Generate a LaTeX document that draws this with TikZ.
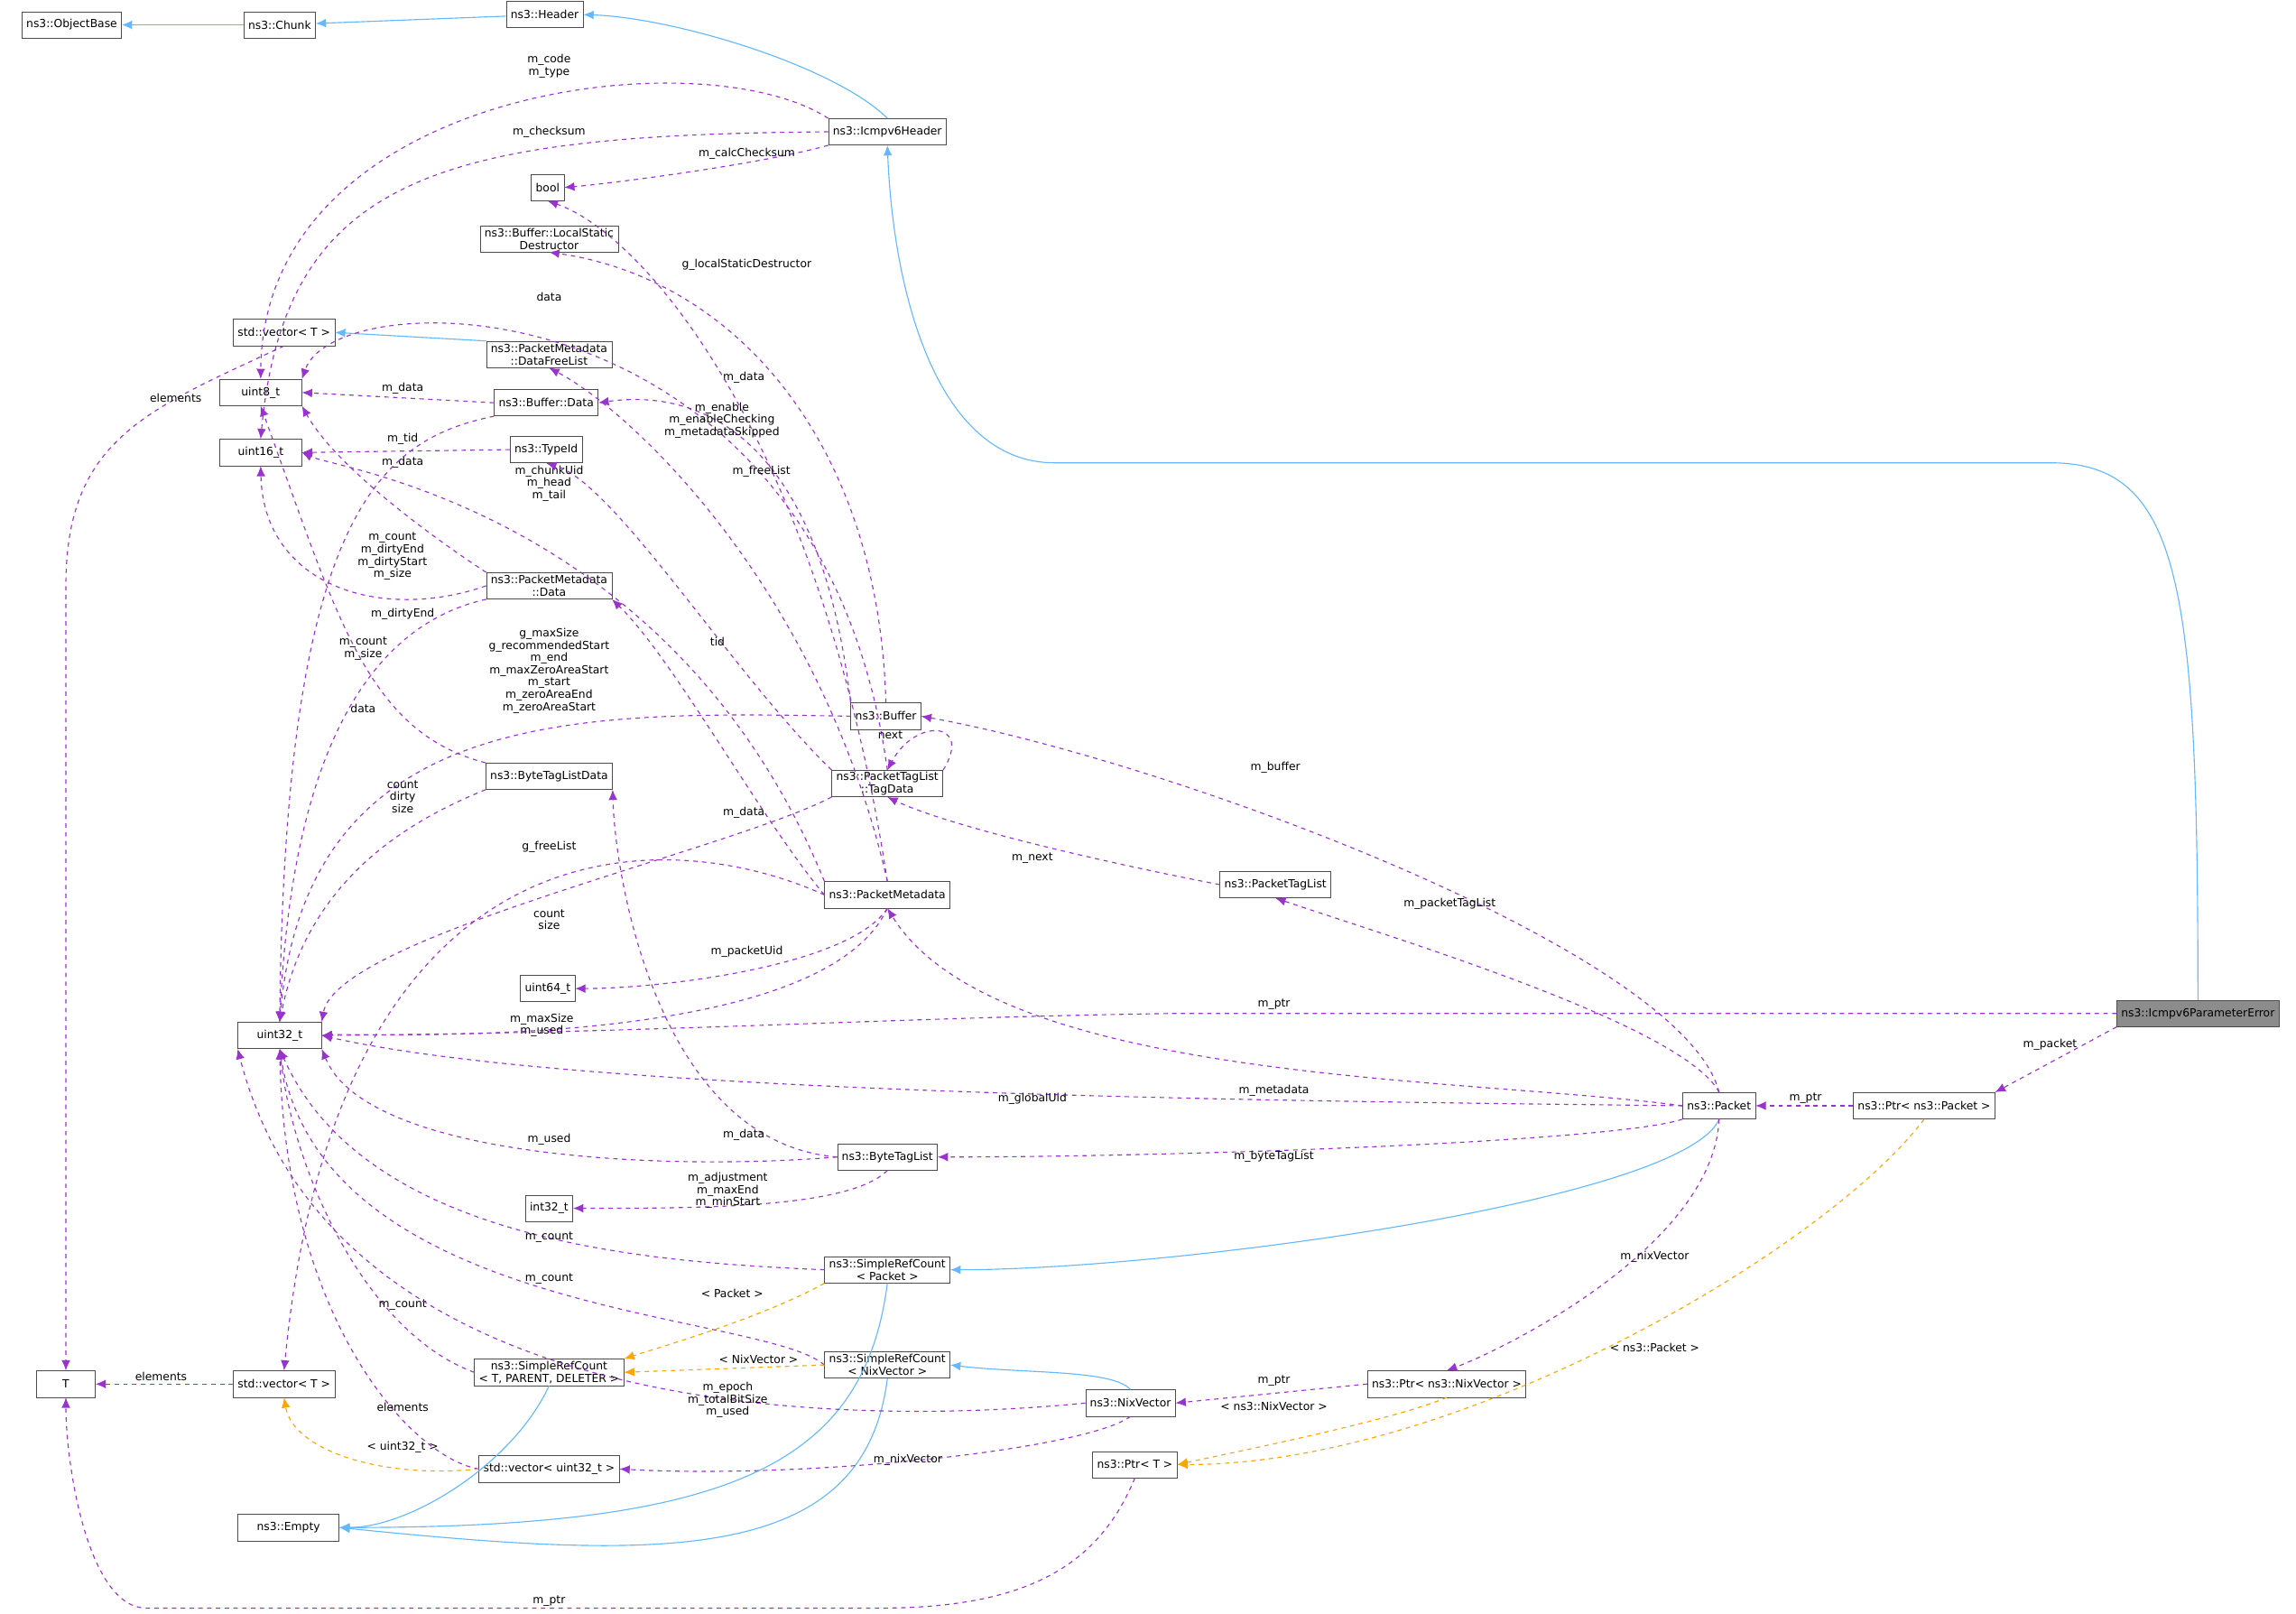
\documentclass[tikz,border=0pt]{standalone}
\usepackage{fontspec}
\setmainfont{DejaVu Sans}
\usetikzlibrary{arrows.meta}
\definecolor{ib}{HTML}{63B8FF}
\definecolor{up}{HTML}{9A32CD}
\definecolor{tp}{HTML}{FFA500}
\tikzset{
 cls/.style={draw=black!70,fill=white,font=\fontsize{7.6}{8.6}\selectfont,inner xsep=3pt,inner ysep=1.5pt,minimum height=18,align=center},
 lbl/.style={font=\fontsize{7.6}{8.4}\selectfont,align=center,inner sep=0pt},
 ih/.style={draw=ib,line width=0.7pt,-{Latex[length=7pt,width=6pt]}},
 use/.style={draw=up,dashed,line width=0.7pt,-{Latex[length=7pt,width=6pt]}},
 tmpl/.style={draw=tp,dashed,line width=0.7pt,-{Latex[length=7pt,width=6pt]}},
}
\begin{document}
\begin{tikzpicture}[x=1pt,y=-1pt]
\useasboundingbox (0,0) rectangle (1568,1102);
% nodes
\node[cls] (objbase) at (49,17) {ns3::ObjectBase};
\node[cls] (chunk) at (191,17) {ns3::Chunk};
\node[cls] (header) at (372,10) {ns3::Header};
\node[cls] (icmph) at (606,90) {ns3::Icmpv6Header};
\node[cls] (bool) at (374,128) {bool};
\node[cls,inner ysep=1pt] (lsd) at (375,163) {ns3::Buffer::LocalStatic\\Destructor};
\node[cls] (vect) at (194,227) {std::vector< T >};
\node[cls,inner ysep=1pt] (dfl) at (375,242) {ns3::PacketMetadata\\::DataFreeList};
\node[cls,minimum width=56] (uint8) at (178,268) {uint8\_t};
\node[cls] (bufdata) at (373,275) {ns3::Buffer::Data};
\node[cls,minimum width=56] (uint16) at (178,309) {uint16\_t};
\node[cls] (typeid) at (373,307) {ns3::TypeId};
\node[cls,inner ysep=1pt] (pmdata) at (375,400) {ns3::PacketMetadata\\::Data};
\node[cls] (buffer) at (605,489) {ns3::Buffer};
\node[cls,inner ysep=1pt] (tagdata) at (606,535) {ns3::PacketTagList\\::TagData};
\node[cls] (btld) at (375,530) {ns3::ByteTagListData};
\node[cls] (pm) at (606,611) {ns3::PacketMetadata};
\node[cls] (ptl) at (871,604) {ns3::PacketTagList};
\node[cls] (uint64) at (374,675) {uint64\_t};
\node[cls,minimum width=57] (uint32) at (191,707) {uint32\_t};
\node[cls,fill=black!45] (perr) at (1501,692) {ns3::Icmpv6ParameterError};
\node[cls] (packet) at (1174,755) {ns3::Packet};
\node[cls] (ptrpkt) at (1314,755) {ns3::Ptr< ns3::Packet >};
\node[cls] (btl) at (606,790) {ns3::ByteTagList};
\node[cls] (int32) at (375,825) {int32\_t};
\node[cls,inner ysep=1pt] (srcpkt) at (606,867) {ns3::SimpleRefCount\\< Packet >};
\node[cls,inner ysep=1pt] (srctpd) at (375,937) {ns3::SimpleRefCount\\< T, PARENT, DELETER >};
\node[cls,inner ysep=1pt] (srcnix) at (606,932) {ns3::SimpleRefCount\\< NixVector >};
\node[cls,minimum width=40] (T) at (45,945) {T};
\node[cls] (vectl) at (194,945) {std::vector< T >};
\node[cls] (nix) at (772,958) {ns3::NixVector};
\node[cls] (ptrnix) at (988,945) {ns3::Ptr< ns3::NixVector >};
\node[cls] (vecu32) at (375,1003) {std::vector< uint32\_t >};
\node[cls] (ptrT) at (775,1000) {ns3::Ptr< T >};
\node[cls,minimum width=69] (empty) at (197,1043) {ns3::Empty};
% inheritance
\draw[ih] (chunk) -- (objbase);
\draw[ih] (header) -- (chunk);
\draw[ih] (icmph.north) .. controls (570,45) and (460,12) .. (header.east);
\draw[ih] (perr.north) .. controls (1501,400) and (1490,316) .. (1400,316) -- (720,316) .. controls (640,316) and (610,200) .. (icmph.south);
\draw[ih] (dfl.north west) -- (vect.east);
\draw[ih] (packet.south) .. controls (1150,820) and (800,867) .. (srcpkt.east);
\draw[ih] (nix.north) .. controls (760,935) and (700,938) .. (srcnix.east);
\draw[ih] (srcpkt.south) .. controls (590,1000) and (500,1043) .. (empty.east);
\draw[ih] (srcnix.south) .. controls (590,1070) and (450,1065) .. (empty.east);
\draw[ih] (srctpd.south) .. controls (350,1000) and (280,1043) .. (empty.east);
% usage
\draw[use] (icmph.north west) .. controls (480,25) and (180,60) .. (uint8.north);
\node[lbl] (l1) at (375,45) {m\_code\\m\_type};
\draw[use] (icmph.west) .. controls (300,92) and (195,120) .. (uint16.north);
\node[lbl] (l2) at (375,90) {m\_checksum};
\draw[use] (icmph.south west) .. controls (520,112) and (420,125) .. (bool.east);
\node[lbl] (l3) at (510,105) {m\_calcChecksum};
\draw[use] (vect.south) .. controls (100,280) and (45,300) .. (45,400) -- (T.north);
\node[lbl] (l4) at (120,272) {elements};
\draw[use] (bufdata.west) -- (uint8.east);
\node[lbl] (l5) at (275,265) {m\_data};
\draw[use] (typeid.west) -- (uint16.east);
\node[lbl] (l6) at (275,300) {m\_tid};
\draw[use] (pmdata.north west) .. controls (300,370) and (230,320) .. (uint8.south east);
\node[lbl] (l7) at (275,316) {m\_data};
\draw[use] (pmdata.west) .. controls (260,425) and (180,400) .. (uint16.south);
\node[lbl] (l8) at (275,419) {m\_dirtyEnd};
\draw[use] (pmdata.south west) .. controls (260,425) and (200,500) .. (uint32.north);
\node[lbl] (l9) at (248,443) {m\_count\\m\_size};
\draw[use] (bufdata.south west) .. controls (260,300) and (195,350) .. (uint32.north);
\node[lbl] (l10) at (268,380) {m\_count\\m\_dirtyEnd\\m\_dirtyStart\\m\_size};
\draw[use] (buffer.west) .. controls (400,486) and (210,480) .. (uint32.north);
\node[lbl] (l11) at (375,458) {g\_maxSize\\g\_recommendedStart\\m\_end\\m\_maxZeroAreaStart\\m\_start\\m\_zeroAreaEnd\\m\_zeroAreaStart};
\draw[use] (btld.north west) .. controls (250,500) and (230,420) .. (uint8.south);
\node[lbl] (l12) at (248,484) {data};
\draw[use] (btld.south west) .. controls (280,560) and (210,600) .. (uint32.north);
\node[lbl] (l13) at (275,544) {count\\dirty\\size};
\draw[use] (tagdata.north) .. controls (560,190) and (230,190) .. (uint8.north east);
\node[lbl] (l14) at (375,203) {data};
\draw[use] (buffer.north) .. controls (600,300) and (500,190) .. (lsd.south);
\node[lbl] (l15) at (510,181) {g\_localStaticDestructor};
\draw[use] (buffer.north west) .. controls (560,300) and (480,265) .. (bufdata.east);
\node[lbl] (l16) at (508,258) {m\_data};
\draw[use] (pm.north) .. controls (560,400) and (430,280) .. (dfl.south);
\node[lbl] (l17) at (520,322) {m\_freeList};
\draw[use] (pm.north west) .. controls (460,350) and (230,320) .. (uint16.east);
\node[lbl] (l18) at (375,330) {m\_chunkUid\\m\_head\\m\_tail};
\draw[use] (pm.north) .. controls (560,300) and (440,160) .. (bool.south);
\node[lbl] (l19) at (493,287) {m\_enable\\m\_enableChecking\\m\_metadataSkipped};
\draw[use] (pm.west) .. controls (520,560) and (460,450) .. (pmdata.south east);
\node[lbl] (l20) at (508,555) {m\_data};
\draw[use] (pm.west) .. controls (450,560) and (230,560) .. (vectl.north);
\node[lbl] (l21) at (375,578) {g\_freeList};
\draw[use] (pm.south) .. controls (580,660) and (450,675) .. (uint64.east);
\node[lbl] (l22) at (510,650) {m\_packetUid};
\draw[use] (pm.south) .. controls (560,720) and (250,705) .. (uint32.east);
\node[lbl] (l23) at (370,700) {m\_maxSize\\m\_used};
\draw[use] (tagdata.north east) .. controls (665,492) and (625,490) .. (tagdata.north);
\node[lbl] (l24) at (608,502) {next};
\draw[use] (tagdata.north west) .. controls (500,460) and (420,330) .. (typeid.south);
\node[lbl] (l25) at (490,438) {tid};
\draw[use] (tagdata.south west) .. controls (500,580) and (230,640) .. (uint32.north east);
\node[lbl] (l26) at (375,628) {count\\size};
\draw[use] (ptl.west) .. controls (760,590) and (650,565) .. (tagdata.south);
\node[lbl] (l27) at (705,586) {m\_next};
\draw[use] (packet.north) .. controls (1150,650) and (800,520) .. (buffer.east);
\node[lbl] (l28) at (871,524) {m\_buffer};
\draw[use] (packet.north) .. controls (1150,700) and (950,640) .. (ptl.south);
\node[lbl] (l29) at (990,617) {m\_packetTagList};
\draw[use] (packet.west) .. controls (1000,735) and (680,740) .. (pm.south);
\node[lbl] (l30) at (870,745) {m\_metadata};
\draw[use] (packet.west) .. controls (900,752) and (400,748) .. (uint32.east);
\node[lbl] (l31) at (705,750) {m\_globalUid};
\draw[use] (packet.south west) .. controls (1100,780) and (800,790) .. (btl.east);
\node[lbl] (l32) at (870,790) {m\_byteTagList};
\draw[use] (packet.south) .. controls (1170,850) and (1030,920) .. (ptrnix.north);
\node[lbl] (l33) at (1130,858) {m\_nixVector};
\draw[use] (ptrpkt.west) -- (packet.east);
\node[lbl] (l34) at (1233,750) {m\_ptr};
\draw[use] (perr.south west) -- (ptrpkt.north east);
\node[lbl] (l35) at (1400,713) {m\_packet};
\draw[use] (perr.west) -- (800,692) .. controls (600,695) and (460,705) .. (uint32.east);
\node[lbl] (l36) at (870,686) {m\_ptr};
\draw[use] (btl.west) .. controls (450,780) and (420,600) .. (btld.south east);
\node[lbl] (l37) at (508,775) {m\_data};
\draw[use] (btl.west) .. controls (450,800) and (250,790) .. (uint32.south east);
\node[lbl] (l38) at (375,778) {m\_used};
\draw[use] (btl.south) .. controls (580,825) and (480,825) .. (int32.east);
\node[lbl] (l39) at (497,813) {m\_adjustment\\m\_maxEnd\\m\_minStart};
\draw[use] (srcpkt.west) .. controls (450,862) and (250,850) .. (uint32.south);
\node[lbl] (l40) at (375,845) {m\_count};
\draw[use] (srcnix.west) .. controls (520,895) and (220,900) .. (uint32.south);
\node[lbl] (l41) at (375,873) {m\_count};
\draw[use] (srctpd.west) .. controls (250,910) and (200,800) .. (uint32.south);
\node[lbl] (l42) at (275,891) {m\_count};
\draw[use] (nix.west) .. controls (600,972) and (230,980) .. (uint32.south west);
\node[lbl] (l43) at (497,956) {m\_epoch\\m\_totalBitSize\\m\_used};
\draw[use] (nix.south) .. controls (740,990) and (550,1010) .. (vecu32.east);
\node[lbl] (l44) at (620,997) {m\_nixVector};
\draw[use] (vecu32.west) .. controls (280,995) and (195,900) .. (uint32.south);
\node[lbl] (l45) at (275,961) {elements};
\draw[use] (vectl.west) -- (T.east);
\node[lbl] (l46) at (110,940) {elements};
\draw[use] (ptrnix.west) -- (nix.east);
\node[lbl] (l47) at (870,943) {m\_ptr};
\draw[use] (ptrT.south) .. controls (750,1070) and (700,1098) .. (600,1098) -- (100,1098) .. controls (60,1098) and (45,1000) .. (T.south);
\node[lbl] (l48) at (375,1093) {m\_ptr};
% templates
\draw[tmpl] (srcpkt.south west) .. controls (520,900) and (450,920) .. (srctpd.north east);
\node[lbl] (l49) at (500,883) {< Packet >};
\draw[tmpl] (srcnix.west) -- (srctpd.east);
\node[lbl] (l50) at (518,928) {< NixVector >};
\draw[tmpl] (vecu32.west) .. controls (260,1010) and (200,990) .. (vectl.south);
\node[lbl] (l51) at (275,988) {< uint32\_t >};
\draw[tmpl] (ptrnix.south) .. controls (950,970) and (850,990) .. (ptrT.east);
\node[lbl] (l52) at (870,960) {< ns3::NixVector >};
\draw[tmpl] (ptrpkt.south) .. controls (1250,850) and (1000,1000) .. (ptrT.east);
\node[lbl] (l53) at (1130,920) {< ns3::Packet >};
\end{tikzpicture}
\end{document}
